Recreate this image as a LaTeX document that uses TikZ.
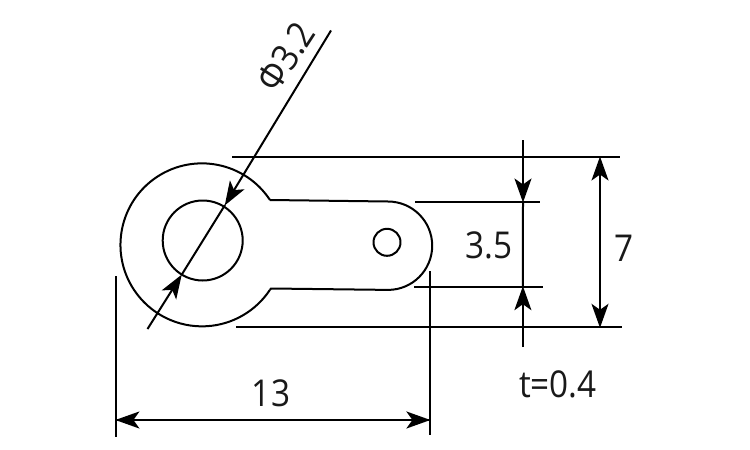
\documentclass[tikz,border=0pt]{standalone}
\usepackage{fontspec}
\setmainfont[FakeStretch=0.9]{Open Sans}
\usetikzlibrary{arrows.meta}
\tikzset{
  part/.style={line width=2pt,line join=round},
  dimline/.style={line width=2pt},
  tip/.style={-{Stealth[length=24pt,width=17pt,inset=6pt]},line width=2pt,shorten >=-0.5pt},
  label/.style={inner sep=0pt,font=\fontsize{37}{40}\selectfont,text=black!90}
}
\begin{document}
\begin{tikzpicture}[x=1pt,y=-1pt]
\useasboundingbox (0,0) rectangle (750,450);
\fill[white] (0,0) rectangle (750,450);
% part outline
\coordinate (c1) at (202.5,244.5);
\draw[part] (270,200) arc[start angle=-33.4,end angle=-326.4,radius=81.5] coordinate (bl);
\draw[part] (270,200) -- (388,201.5) arc[start angle=-90,end angle=90,radius=44.2] -- (271,288.5) -- (bl);
\node[part,draw,circle,minimum size=80pt,inner sep=0pt] (hole) at (202.7,240.5) {};
\node[part,draw,circle,minimum size=27pt,inner sep=0pt] (smallhole) at (387,242.3) {};
% named points
\coordinate (t1) at (232,157); \coordinate (t2) at (620,157);
\coordinate (b1) at (236,327.3); \coordinate (b2) at (622,327.3);
\coordinate (m1) at (415,202); \coordinate (m2) at (540,202);
\coordinate (n1) at (414,286.7); \coordinate (n2) at (543,286.7);
\coordinate (vL1) at (115.9,276); \coordinate (vL2) at (115.9,437);
\coordinate (vR1) at (429.9,271); \coordinate (vR2) at (429.9,435);
\coordinate (hL) at (115.9,420); \coordinate (hR) at (429.9,420);
\coordinate (sA) at (523,140); \coordinate (sB) at (523,202);
\coordinate (sC) at (522.9,286.7); \coordinate (sD) at (522.9,347);
\coordinate (pA) at (600,157); \coordinate (pB) at (600,327.3);
\coordinate (pM) at (600,245);
\coordinate (dT) at (331,30.5); \coordinate (dB) at (147.5,329);
\coordinate (dA) at (225,205); \coordinate (dC) at (181.5,275);
% extension lines
\draw[dimline] (t1) -- (t2);
\draw[dimline] (b1) -- (b2);
\draw[dimline] (m1) -- (m2);
\draw[dimline] (n1) -- (n2);
\draw[dimline] (vL1) -- (vL2);
\draw[dimline] (vR1) -- (vR2);
% dimension lines
\draw[tip] (hR) -- (hL);
\draw[tip] (hL) -- (hR);
\draw[tip] (sA) -- (sB);
\draw[dimline] (sB) -- (sC);
\draw[tip] (sD) -- (sC);
\draw[tip] (pM) -- (pA);
\draw[tip] (pM) -- (pB);
\draw[tip] (dT) -- (dA);
\draw[dimline] (dA) -- (dC);
\draw[tip] (dB) -- (dC);
% labels
\node[label] (l13) at (271,393) {13};
\node[label] (l35) at (489,245) {3.5};
\node[label] (l7) at (624,248) {7};
\node[label] (lt) at (558,384) {t=0.4};
\node[label,rotate=57] (ld) at (286,57) {Φ3.2};
\end{tikzpicture}
\end{document}
